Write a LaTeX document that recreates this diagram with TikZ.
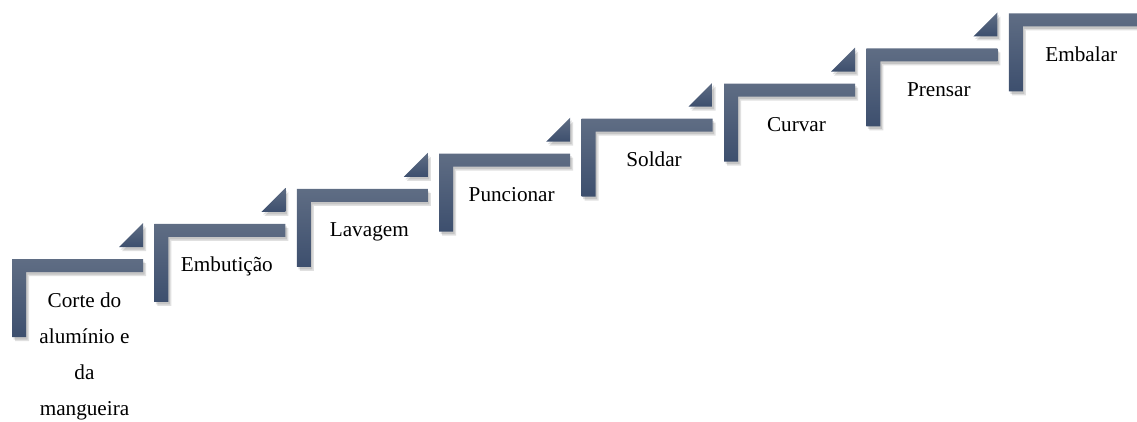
\documentclass[tikz,border=0pt]{standalone}
\usepackage{fontspec}
\setmainfont{Liberation Serif}
\definecolor{stepTop}{HTML}{5F6D84}
\definecolor{stepBot}{HTML}{3D4F6E}
\begin{document}
\begin{tikzpicture}[x=0.75pt,y=-0.75pt,
  stepbar/.style={top color=stepTop,bottom color=stepBot,draw=none},
  stepshadow/.style={fill=black,opacity=0.12},
  steplabel/.style={font=\fontsize{15.9}{27}\selectfont,align=center,inner sep=0pt}]
\useasboundingbox (0,0) rectangle (1137,421);
\clip (0,0) rectangle (1137,421);
\foreach \i in {0,...,7} {
  \pgfmathsetmacro\xo{12+142.4*\i}
  \pgfmathsetmacro\yo{259-35.1*\i}
  \begin{scope}[shift={(\xo,\yo)}]
    \foreach \d in {1.5,3} {
      \fill[stepshadow] (\d,\d+1) -- (131+\d,\d+1) -- (131+\d,14+\d) -- (14+\d,14+\d) -- (14+\d,79+\d) -- (\d,79+\d) -- cycle;
    }
    \path[stepbar] (0,0) -- (131,0) -- (131,13) -- (14,13) -- (14,78) -- (0,78) -- cycle;
    \ifnum\i<7
      \foreach \d in {1.5,3} {
        \fill[stepshadow] (107+\d,-11+\d) -- (131+\d,-35+\d) -- (131+\d,-11+\d) -- cycle;
      }
      \path[stepbar] (107,-12) -- (131,-36) -- (131,-12) -- cycle;
    \fi
  \end{scope}
}
\node[steplabel,anchor=north] (t1) at (84.5,292.5) {Corte do\\alumínio e\\da\\mangueira};
\node[steplabel,anchor=base] (t2) at (226.9,271.9) {Embutição};
\node[steplabel,anchor=base] (t3) at (369.3,236.8) {Lavagem};
\node[steplabel,anchor=base] (t4) at (511.7,201.7) {Puncionar};
\node[steplabel,anchor=base] (t5) at (654.1,166.6) {Soldar};
\node[steplabel,anchor=base] (t6) at (796.5,131.5) {Curvar};
\node[steplabel,anchor=base] (t7) at (938.9,96.4) {Prensar};
\node[steplabel,anchor=base] (t8) at (1081.3,61.3) {Embalar};
\end{tikzpicture}
\end{document}
